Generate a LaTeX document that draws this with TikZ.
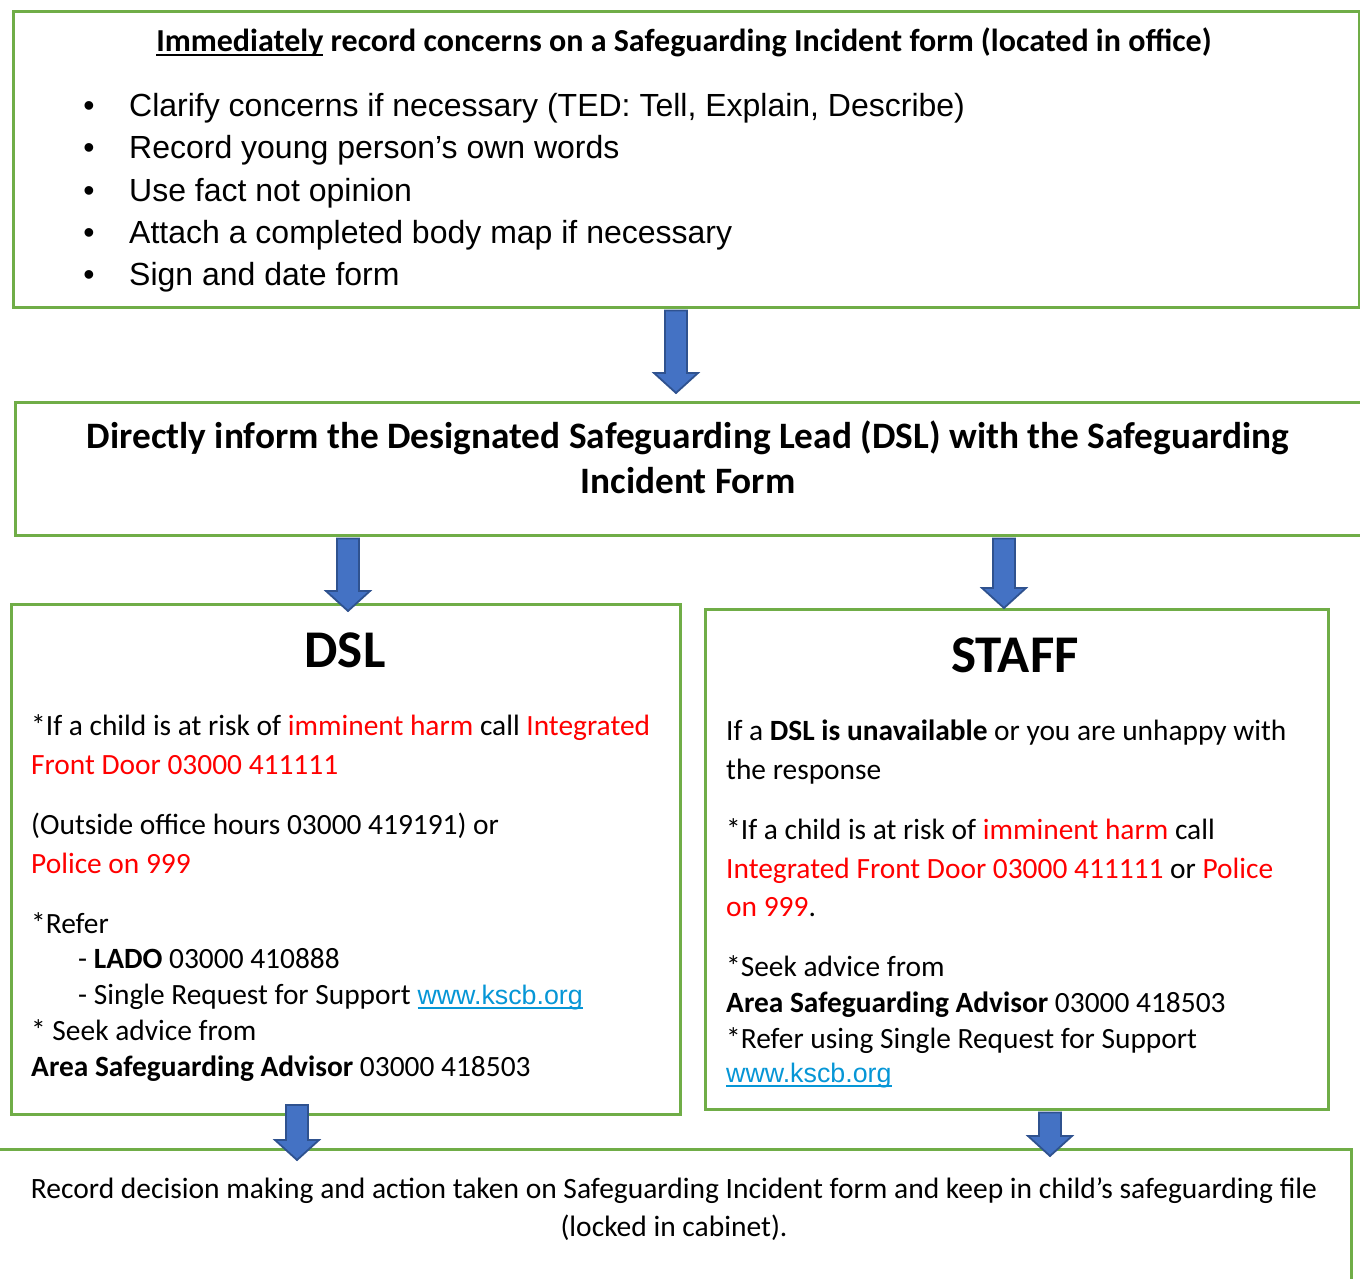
\documentclass[tikz,border=0pt]{standalone}
\usepackage{fontspec}
\setmainfont{Carlito}
\newfontfamily\arialfont{Liberation Sans}
\usetikzlibrary{calc}

\definecolor{boxgreen}{RGB}{112,173,71}
\definecolor{arrowfill}{RGB}{68,114,196}
\definecolor{arrowedge}{RGB}{47,82,143}
\definecolor{linkblue}{RGB}{6,150,214}
\definecolor{alertred}{RGB}{255,0,0}

% underlined text with a rule of chosen colour
\newcommand\thickul[2][black]{\setbox0\hbox{#2}\rlap{\color{#1}\rule[-4.5pt]{\wd0}{2pt}}\box0\relax}
\newcommand\weblink[1]{{\arialfont\fontsize{26.8}{30}\selectfont\color{linkblue}\thickul[linkblue]{#1}}}
\newcommand\hot[1]{{\color{alertred}#1}}

% a block arrow pointing down: x, start anchor, start shift, tip anchor, tip shift
\newcommand\blockdown[5]{%
  \draw[blockarrow] let \p1=(#2), \p2=(#4) in
    (#1pt-11pt,\y1+#3pt) -- (#1pt+11pt,\y1+#3pt) -- (#1pt+11pt,\y2+#5pt+20pt)
    -- (#1pt+22pt,\y2+#5pt+20pt) -- (#1pt,\y2+#5pt) -- (#1pt-22pt,\y2+#5pt+20pt)
    -- (#1pt-11pt,\y2+#5pt+20pt) -- cycle;}

\begin{document}
\begin{tikzpicture}[x=1pt,y=-1pt,
  box/.style={draw=boxgreen,line width=3pt,rectangle,inner sep=0pt,anchor=north west},
  blockarrow/.style={fill=arrowfill,draw=arrowedge,line width=1.8pt,line join=miter},
  txt/.style={inner sep=0pt,anchor=base west},
  ctxt/.style={inner sep=0pt,anchor=base},
  bullettxt/.style={txt,font=\arialfont\fontsize{32}{38}\selectfont},
  body/.style={txt,font=\fontsize{29.4}{35}\selectfont},
  cbody/.style={ctxt,font=\fontsize{29.5}{35}\selectfont},
  heading/.style={ctxt,font=\bfseries\fontsize{53}{60}\selectfont}]

\useasboundingbox (0,0) rectangle (1360,1279);

% ---- boxes
\node[box,minimum width=1346pt,minimum height=296pt] (top) at (12,10) {};
\node[box,minimum width=1360pt,minimum height=133pt] (inform) at (14,401) {};
\node[box,minimum width=669pt,minimum height=510pt] (dsl) at (10,603) {};
\node[box,minimum width=623pt,minimum height=500pt] (staff) at (704,608) {};
\node[box,minimum width=1360pt,minimum height=150pt] (record) at (-10,1148) {};

% ---- top box
\node[ctxt,font=\bfseries\fontsize{32}{38}\selectfont] (toptitle) at (684,52)
  {\thickul{Immediately} record concerns on a Safeguarding Incident form (located in office)};
\foreach \yy/\t [count=\i] in {117/{Clarify concerns if necessary (TED: Tell, Explain, Describe)},
  159/{Record young person’s own words},
  201/{Use fact not opinion},
  243/{Attach a completed body map if necessary},
  285/{Sign and date form}}{
  \node[bullettxt,anchor=base] (dot\i) at (89,\yy) {•};
  \node[bullettxt] (item\i) at (129,\yy) {\t};
}

% ---- inform box
\node[ctxt,font=\bfseries\fontsize{37.3}{44}\selectfont] (inf1) at (688,448)
  {Directly inform the Designated Safeguarding Lead (DSL) with the Safeguarding};
\node[ctxt,font=\bfseries\fontsize{37.3}{44}\selectfont] (inf2) at (688,493) {Incident Form};

% ---- DSL box
\node[heading] (dslhead) at (345,667) {DSL};
\node[body] (d1) at (31,735) {*If a child is at risk of \hot{imminent harm} call \hot{Integrated}};
\node[body] (d2) at (31,774) {\hot{Front Door 03000 411111}};
\node[body] (d3) at (31,834) {(Outside office hours 03000 419191) or};
\node[body] (d4) at (31,873) {\hot{Police on 999}};
\node[body] (d5) at (31,933) {*Refer};
\node[body] (d6) at (78,968) {- \textbf{LADO} 03000 410888};
\node[body] (d7) at (78,1004) {- Single Request for Support \weblink{www.kscb.org}};
\node[body] (d8) at (31,1040) {* Seek advice from};
\node[body] (d9) at (31,1076) {\textbf{Area Safeguarding Advisor} 03000 418503};

% ---- STAFF box
\node[heading] (staffhead) at (1015,672) {STAFF};
\node[body] (s1) at (726,740) {If a \textbf{DSL is unavailable} or you are unhappy with};
\node[body] (s2) at (726,779) {the response};
\node[body] (s3) at (726,839) {*If a child is at risk of \hot{imminent harm} call};
\node[body] (s4) at (726,878) {\hot{Integrated Front Door 03000 411111} or \hot{Police}};
\node[body] (s5) at (726,916) {\hot{on 999}.};
\node[body] (s6) at (726,976) {*Seek advice from};
\node[body] (s7) at (726,1012) {\textbf{Area Safeguarding Advisor} 03000 418503};
\node[body] (s8) at (726,1048) {*Refer using Single Request for Support};
\node[body] (s9) at (726,1082) {\weblink{www.kscb.org}};

% ---- record box
\node[cbody] (r1) at (674,1198)
  {Record decision making and action taken on Safeguarding Incident form and keep in child’s safeguarding file};
\node[cbody] (r2) at (674,1236) {(locked in cabinet).};

% ---- arrows between the boxes
\blockdown{676}{top.south}{-1.5}{inform.north}{8}
\blockdown{348}{inform.south}{-1.5}{dsl.north}{-8}
\blockdown{1004}{inform.south}{-1.5}{staff.north}{0}
\blockdown{297}{dsl.south}{11}{record.north}{-12}
\blockdown{1050}{staff.south}{-1.5}{record.north}{-8}
\end{tikzpicture}
\end{document}
